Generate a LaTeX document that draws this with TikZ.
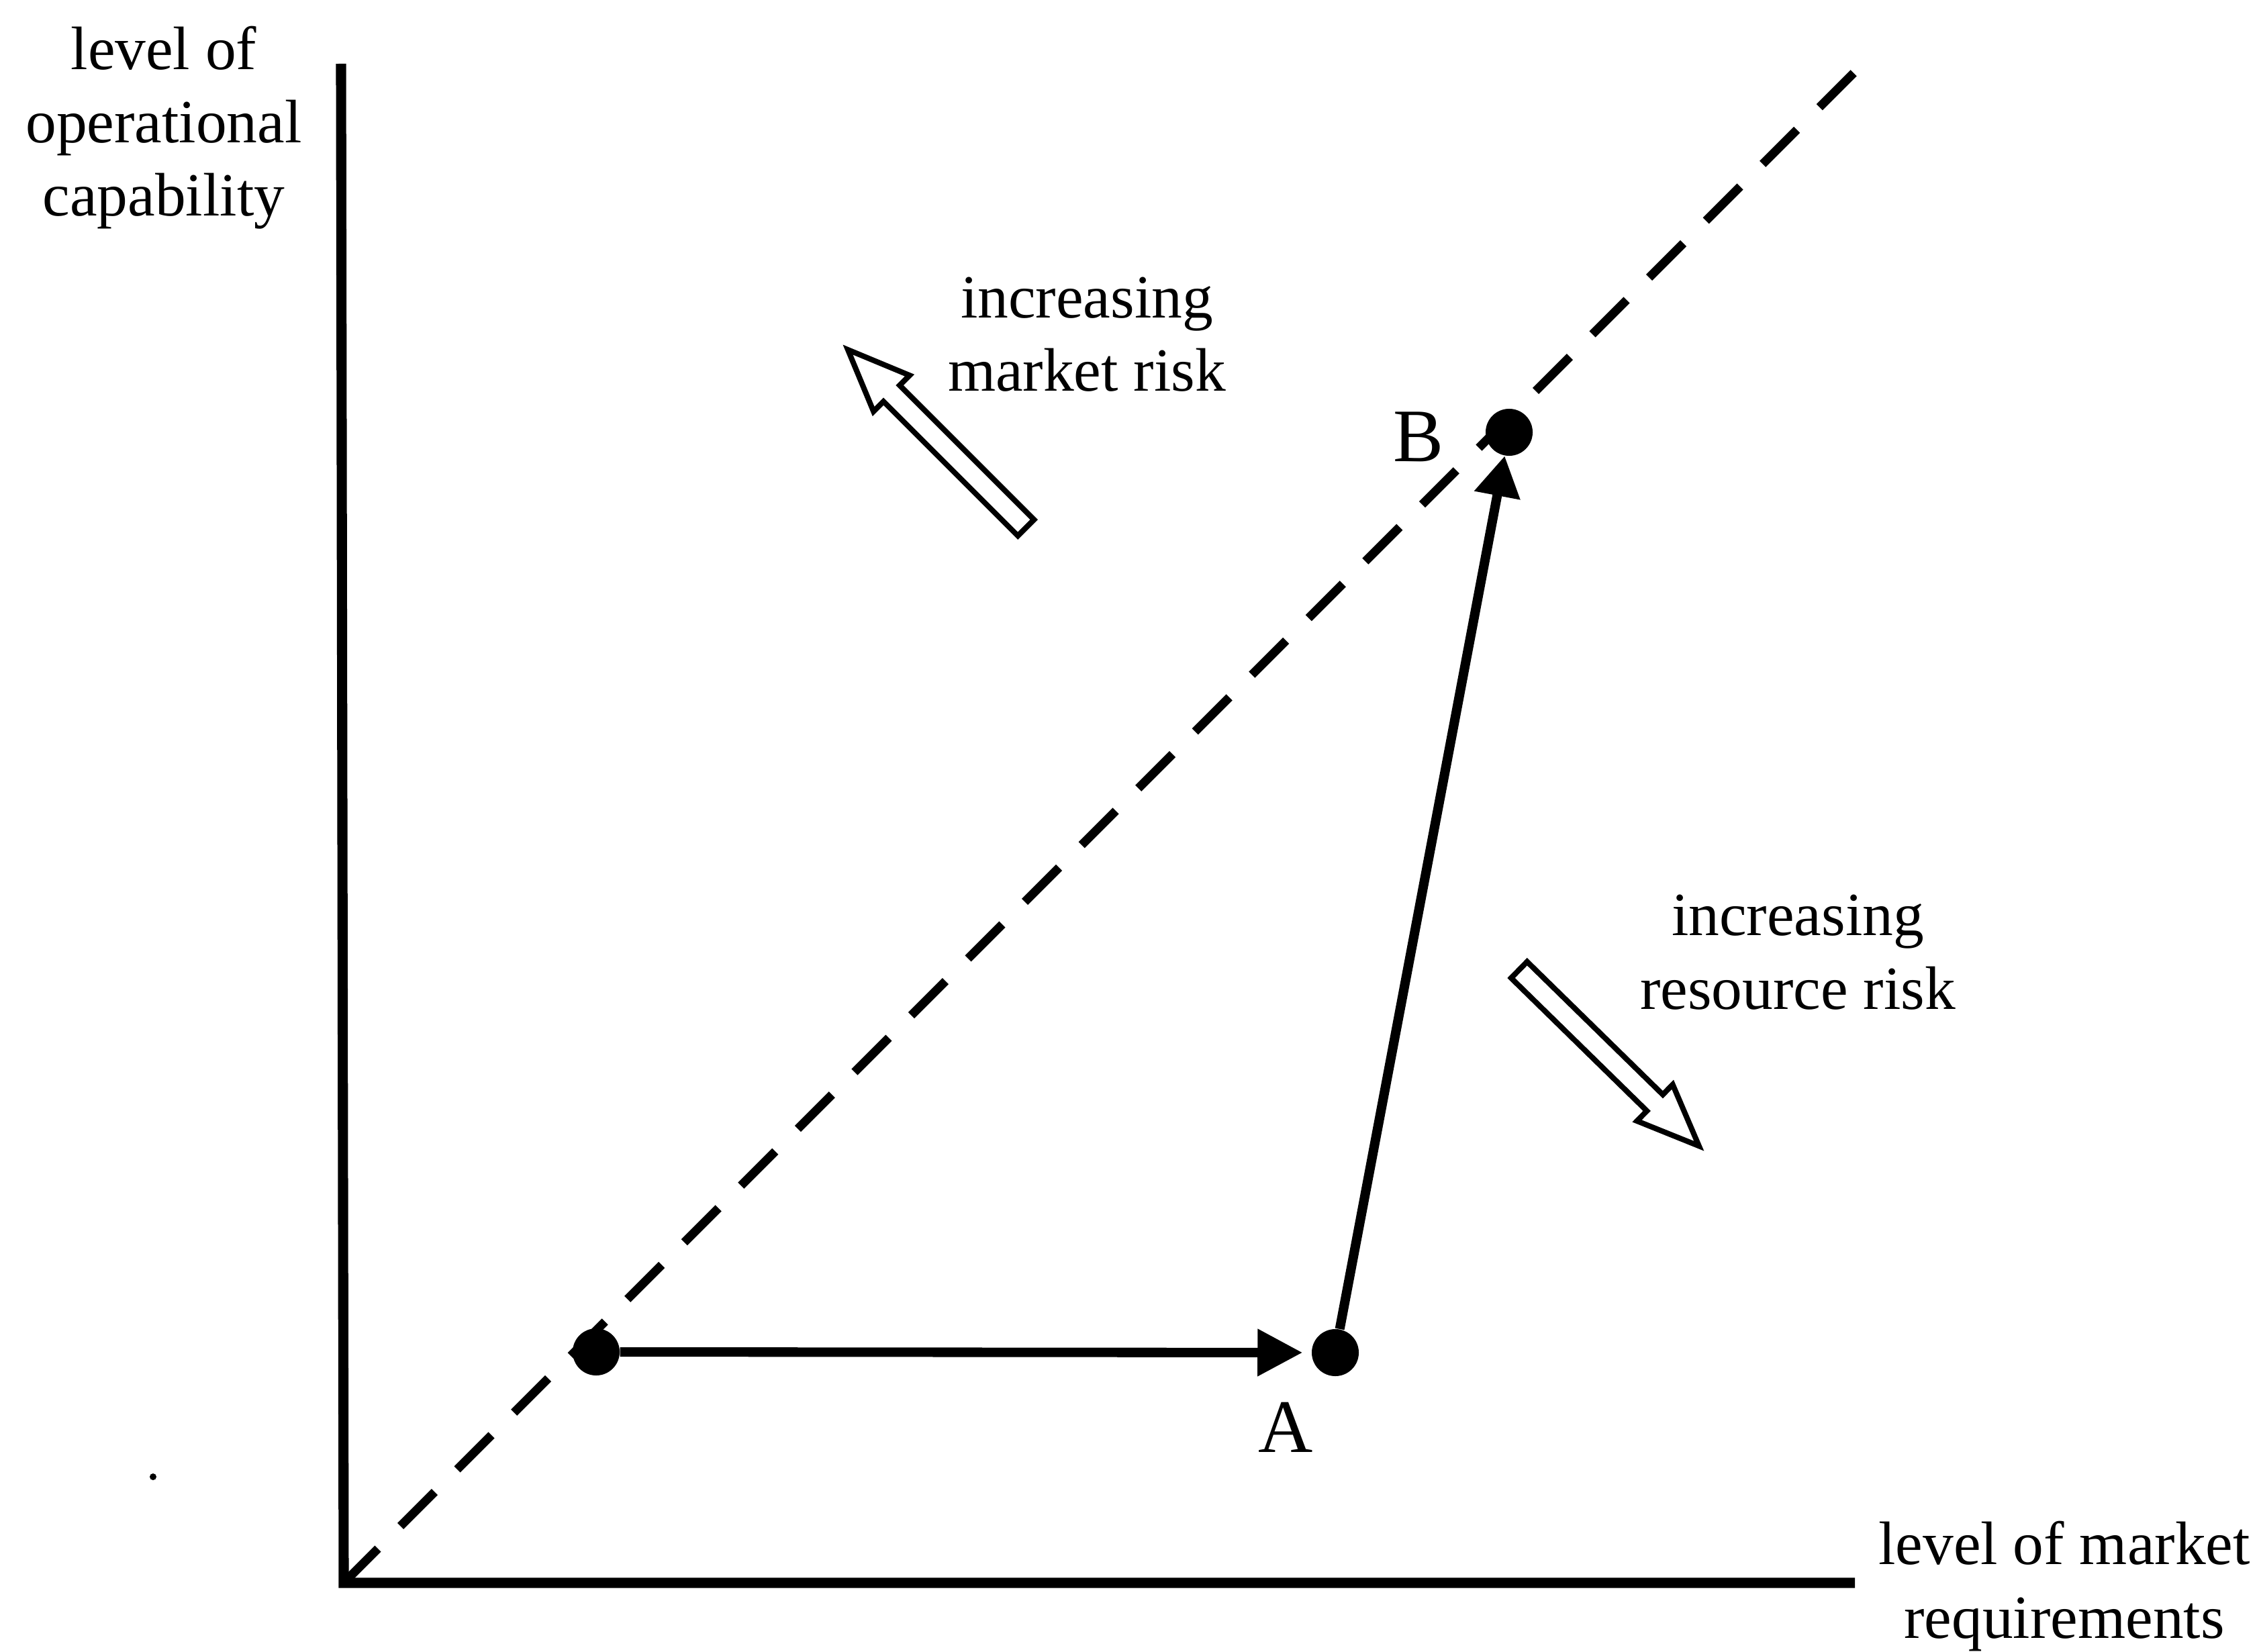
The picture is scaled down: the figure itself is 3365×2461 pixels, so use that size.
\documentclass[tikz,border=0pt]{standalone}
\usepackage{fontspec}
\setmainfont{Liberation Serif}
\usetikzlibrary{arrows.meta}
\tikzset{
  axisline/.style={line width=4.3pt, line join=miter, line cap=butt},
  diagline/.style={line width=3.7pt, dash pattern=on 7.2mm off 4.75mm},
  conn/.style={line width=4pt},
  dot/.style={circle, fill=black, inner sep=0pt, minimum size=0.7cm},
  lbl/.style={font=\fontsize{26}{31}\selectfont, align=center, inner sep=0pt, anchor=base},
  letter/.style={font=\fontsize{32}{38}\selectfont, inner sep=0pt, anchor=base},
  blockline/.style={line width=2.3pt, line join=miter, fill=white, draw=black},
  blockarrow/.pic={\draw[blockline] (4,-17) -- (287,-17) -- (287,-38) -- (379,0) -- (287,38) -- (287,17) -- (4,17) -- cycle;}
}
\begin{document}
\begin{tikzpicture}[x=0.01cm,y=-0.01cm]
\useasboundingbox (0,0) rectangle (3365,2461);
% axes
\coordinate (ytop) at (508,95);
\coordinate (orig) at (512,2358);
\coordinate (xend) at (2763,2358);
\coordinate (dend) at (2763,107);
\draw[axisline] (ytop) -- (orig) -- (xend);
% diagonal
\draw[diagline] (orig) -- (dend);
% points
\node[dot] (O) at (888,2014) {};
\node[dot] (A) at (1989,2015) {};
\node[dot] (B) at (2248,644) {};
\draw[conn, -{Triangle[length=6.7mm,width=6.7mm]}, shorten >=0.13cm] (O) -- (A);
\draw[conn, -{Triangle[length=6mm,width=6.6mm]}] (A) -- (B);
% stray mark
\fill (228,2200) circle[radius=0.05cm];
% block arrows
\pic[rotate=135] at (1531,789) {blockarrow};
\pic[rotate=-44.4] at (2260,1442) {blockarrow};
% labels (base = baseline of last line)
\node[lbl] (ylab) at (244,322) {level of\\operational\\capability};
\node[lbl] (xlab) at (3075,2440) {level of market\\requirements};
\node[lbl] (mrisk) at (1619,583) {increasing\\market risk};
\node[lbl] (rrisk) at (2678,1503) {increasing\\resource risk};
\node[letter] (Alab) at (1915,2163) {A};
\node[letter] (Blab) at (2113,688) {B};
\end{tikzpicture}
\end{document}
